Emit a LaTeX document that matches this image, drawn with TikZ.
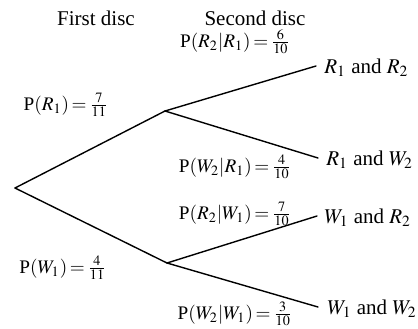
\documentclass[tikz,border=0pt]{standalone}
\usepackage{mathptmx}
\usepackage{fontspec}
\setmainfont{Liberation Serif}
\usepackage{tikz}
\usetikzlibrary{positioning, calc}
\thickmuskip=2.5mu

\begin{document}
\begin{tikzpicture}[x=0.5pt, y=-0.5pt, font=\fontsize{10.5}{12}\selectfont,
  head/.style={inner sep=1pt},
  lab/.style={inner sep=1pt, font=\fontsize{9.6}{11}\selectfont},
  leaf/.style={inner sep=0pt, anchor=base west},
  br/.style={line width=0.7pt, line cap=round}]
\useasboundingbox (0,0) rectangle (418,328);
% headings
\node[head] (h1) at (96,18) {First disc};
\node[head] (h2) at (255,18) {Second disc};
% tree points
\coordinate (root) at (15,188);
\coordinate (r1) at (165,111);
\coordinate (w1) at (167,263);
\coordinate (rr) at (316,66);
\coordinate (rw) at (318,158);
\coordinate (wr) at (317,216);
\coordinate (ww) at (318,307);
% outcomes
\node[leaf] (orr) at ($(rr)+(8,7)$) {$R_1$ and $R_2$};
\node[leaf] (orw) at ($(rw)+(8,7)$) {$R_1$ and $W_2$};
\node[leaf] (owr) at ($(wr)+(7,7)$) {$W_1$ and $R_2$};
\node[leaf] (oww) at ($(ww)+(9,7)$) {$W_1$ and $W_2$};
% probabilities
\node[lab] (p1) at (66,105) {P$(R_1)=\frac{7}{11}$};
\node[lab] (p2) at (63,268) {P$(W_1)=\frac{4}{11}$};
\node[lab] (p3) at (235,42) {P$(R_2|R_1)=\frac{6}{10}$};
\node[lab] (p4) at (235,167) {P$(W_2|R_1)=\frac{4}{10}$};
\node[lab] (p5) at (235,214) {P$(R_2|W_1)=\frac{7}{10}$};
\node[lab] (p6) at (235,314) {P$(W_2|W_1)=\frac{3}{10}$};
% branches
\draw[br] (root)--(r1); \draw[br] (root)--(w1);
\draw[br] (r1)--(rr); \draw[br] (r1)--(rw);
\draw[br] (w1)--(wr); \draw[br] (w1)--(ww);
\end{tikzpicture}
\end{document}
